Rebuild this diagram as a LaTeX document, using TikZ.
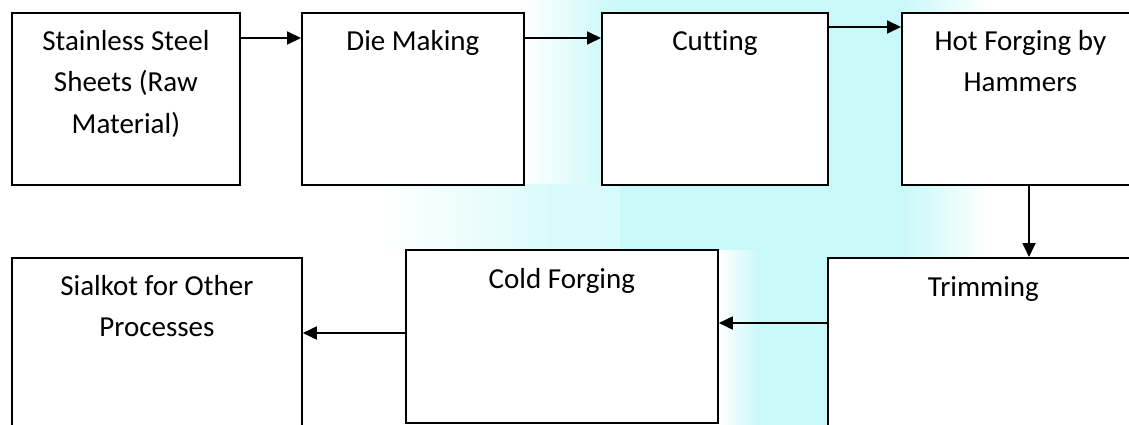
\documentclass[tikz,border=0pt]{standalone}
\usepackage{fontspec}
\setmainfont{Carlito}[Ligatures=NoCommon]
\usetikzlibrary{arrows.meta}
\definecolor{wm}{RGB}{200,248,248}
\begin{document}
\begin{tikzpicture}[x=1pt,y=-1pt,
  box/.style={draw=black, line width=1.8pt, fill=white, rectangle, inner sep=0pt, anchor=north west},
  lbl/.style={font=\fontsize{29}{41}\selectfont, align=center, anchor=base, inner sep=0pt},
  arr/.style={line width=1.8pt, -{Triangle[length=14pt,width=13pt]}}]
\useasboundingbox (0,0) rectangle (1129,425);
\begin{scope}
\clip (0,0) rectangle (1129,425);
% watermark
\shade[left color=white, right color=wm] (520,0) rectangle (620,250);
\fill[wm] (620,0) rectangle (900,257);
\shade[left color=wm, right color=white] (900,0) rectangle (990,257);
\shade[left color=white, right color=wm!70] (380,184) rectangle (560,250);
\fill[wm!70] (560,184) rectangle (620,250);
\shade[left color=white, right color=wm] (718,250) rectangle (760,425);
\fill[wm] (760,250) rectangle (830,425);
% boxes
\node[box, minimum width=228pt, minimum height=172pt] (b1) at (11,12) {};
\node[box, minimum width=222pt, minimum height=172pt] (b2) at (301,12) {};
\node[box, minimum width=226pt, minimum height=172pt] (b3) at (601,12) {};
\node[box, minimum width=237pt, minimum height=172pt] (b4) at (901,12) {};
\node[box, minimum width=290pt, minimum height=173pt] (b5) at (11,257) {};
\node[box, minimum width=312pt, minimum height=173pt] (b6) at (405,249) {};
\node[box, minimum width=311pt, minimum height=173pt] (b7) at (827,257) {};
% labels (anchor base = baseline of last line)
\node[lbl] (t1) at ([yshift=-121pt]b1.north) {Stainless Steel\\Sheets (Raw\\Material)};
\node[lbl] (t2) at ([yshift=-39pt]b2.north) {Die Making};
\node[lbl] (t3) at ([yshift=-39pt]b3.north) {Cutting};
\node[lbl] (t4) at ([yshift=-80pt]b4.north) {Hot Forging by\\Hammers};
\node[lbl] (t5) at ([yshift=-79pt]b5.north) {Sialkot for Other\\Processes};
\node[lbl] (t6) at ([yshift=-39pt]b6.north) {Cold Forging};
\node[lbl] (t7) at ([yshift=-39pt]b7.north) {Trimming};
% arrows
\draw[arr] ([yshift=-26pt]b1.north east) -- ([yshift=-26pt]b2.north west);
\draw[arr] ([yshift=-26pt]b2.north east) -- ([yshift=-26pt]b3.north west);
\draw[arr] ([yshift=-15pt]b3.north east) -- ([yshift=-15pt]b4.north west);
\coordinate (d4) at ([xshift=128pt]b4.south west);
\draw[arr] (d4) -- (d4 |- b7.north);
\coordinate (s7) at ([yshift=-66pt]b7.north west);
\draw[arr] (s7) -- (s7 -| b6.east);
\coordinate (s6) at ([yshift=-84pt]b6.north west);
\draw[arr] (s6) -- (s6 -| b5.east);
\end{scope}
\end{tikzpicture}
\end{document}
